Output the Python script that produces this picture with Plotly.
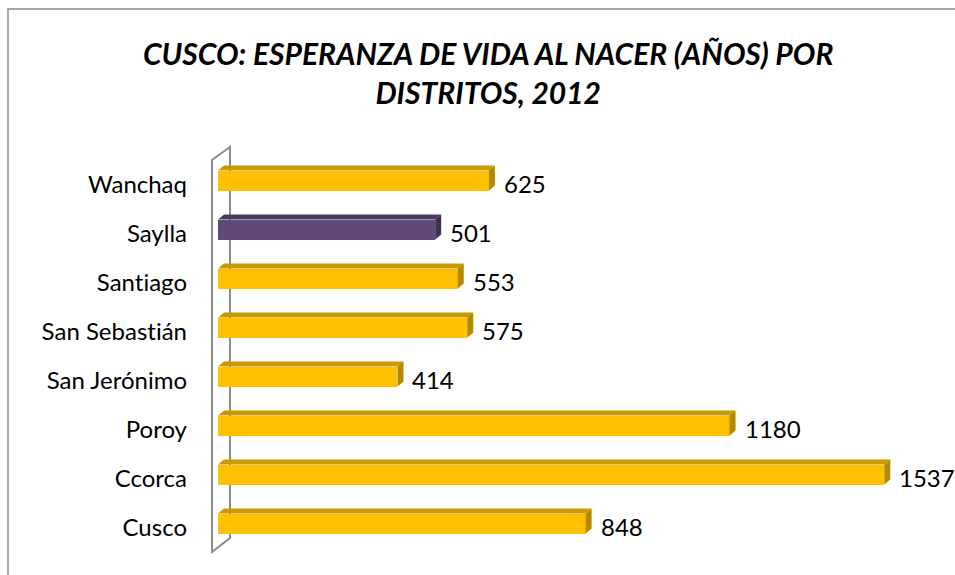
import plotly.graph_objects as go

categories = ["Cusco", "Ccorca", "Poroy", "San Jerónimo", "San Sebastián", "Santiago", "Saylla", "Wanchaq"]
values = [848, 1537, 1180, 414, 575, 553, 501, 625]
bar_colors = ["#FFC000"] * 6 + ["#604A7B"] + ["#FFC000"]
top_colors = ["#C89A00"] * 6 + ["#4B3A60"] + ["#C89A00"]
side_colors = ["#B38900"] * 6 + ["#3F3052"] + ["#B38900"]
title_text = "<b><i>CUSCO: ESPERANZA DE VIDA AL NACER (AÑOS) POR<br>DISTRITOS, 2012</i></b>"

W, H = 955, 575
L, T = 218, 156
PW, PH = 720, 392
R, B = W - L - PW, H - T - PH
SCALE = 0.4335  # px per unit
XMAX = PW / SCALE
YMIN, YMAX = -0.5, len(categories) - 0.5

def dx(px):
    return px * XMAX / PW

def dy(px):
    return px * (YMAX - YMIN) / PH

def paper_x(px):
    return (px - L) / PW

def paper_y(py):
    return (T + PH - py) / PH

idx = list(range(len(categories)))
bar_w = dy(20)
hw = bar_w / 2
ddx, ddy = dx(6), dy(5)

fig = go.Figure()
fig.add_trace(go.Bar(
    y=idx, x=values, orientation="h", width=bar_w,
    marker=dict(color=bar_colors, line=dict(width=0)),
    hoverinfo="skip", showlegend=False,
))

shapes = []
wall = (f"M {paper_x(212)},{paper_y(160)} L {paper_x(212)},{paper_y(552)} "
        f"L {paper_x(230)},{paper_y(538)} L {paper_x(230)},{paper_y(147)} Z")
shapes.append(dict(type="path", xref="paper", yref="paper", path=wall,
                   fillcolor="white", line=dict(color="#8C8C8C", width=2), layer="below"))
shapes.append(dict(type="rect", xref="paper", yref="paper",
                   x0=paper_x(8), y0=paper_y(9), x1=paper_x(W + 10), y1=paper_y(H + 10),
                   fillcolor="rgba(0,0,0,0)", line=dict(color="#8C8C8C", width=1.5), layer="below"))

annotations = []
for i, v in enumerate(values):
    yt = i + hw
    top = f"M 0,{yt} L {v},{yt} L {v + ddx},{yt + ddy} L {ddx},{yt + ddy} Z"
    shapes.append(dict(type="path", xref="x", yref="y", path=top,
                       fillcolor=top_colors[i], line=dict(width=0), layer="above"))
    side = f"M {v},{i - hw} L {v},{yt} L {v + ddx},{yt + ddy} L {v + ddx},{i - hw + ddy} Z"
    shapes.append(dict(type="path", xref="x", yref="y", path=side,
                       fillcolor=side_colors[i], line=dict(width=0), layer="above"))
    annotations.append(dict(x=v, y=i, xref="x", yref="y", text=str(v), showarrow=False,
                            xanchor="left", yanchor="middle", xshift=13, yshift=-3,
                            font=dict(family="Lato", size=24, color="black")))

annotations.append(dict(x=paper_x(488), y=paper_y(72), xref="paper", yref="paper",
                        text=title_text, showarrow=False, xanchor="center", yanchor="middle",
                        align="center", font=dict(family="Lato", size=30, color="black")))

fig.update_layout(
    width=W, height=H,
    margin=dict(l=L, r=R, t=T, b=B),
    paper_bgcolor="white", plot_bgcolor="white",
    xaxis=dict(range=[0, XMAX], visible=False, showgrid=False, zeroline=False, automargin=False),
    yaxis=dict(range=[YMIN, YMAX], tickvals=[i - dy(4) for i in idx], ticktext=categories,
               showgrid=False, zeroline=False, showline=False, ticks="",
               ticklabelstandoff=30, automargin=False,
               tickfont=dict(family="Lato", size=24, color="black")),
    shapes=shapes, annotations=annotations, bargap=0,
)

post = ("var s=document.createElement('style');"
        "s.textContent='html,body{margin:0;padding:0;overflow:hidden} text{font-variant-ligatures:none !important;font-feature-settings:\"liga\" 0 !important}';"
        "document.head.appendChild(s);")
fig.write_html("out.html", post_script=post, config={"displayModeBar": False, "staticPlot": True})
